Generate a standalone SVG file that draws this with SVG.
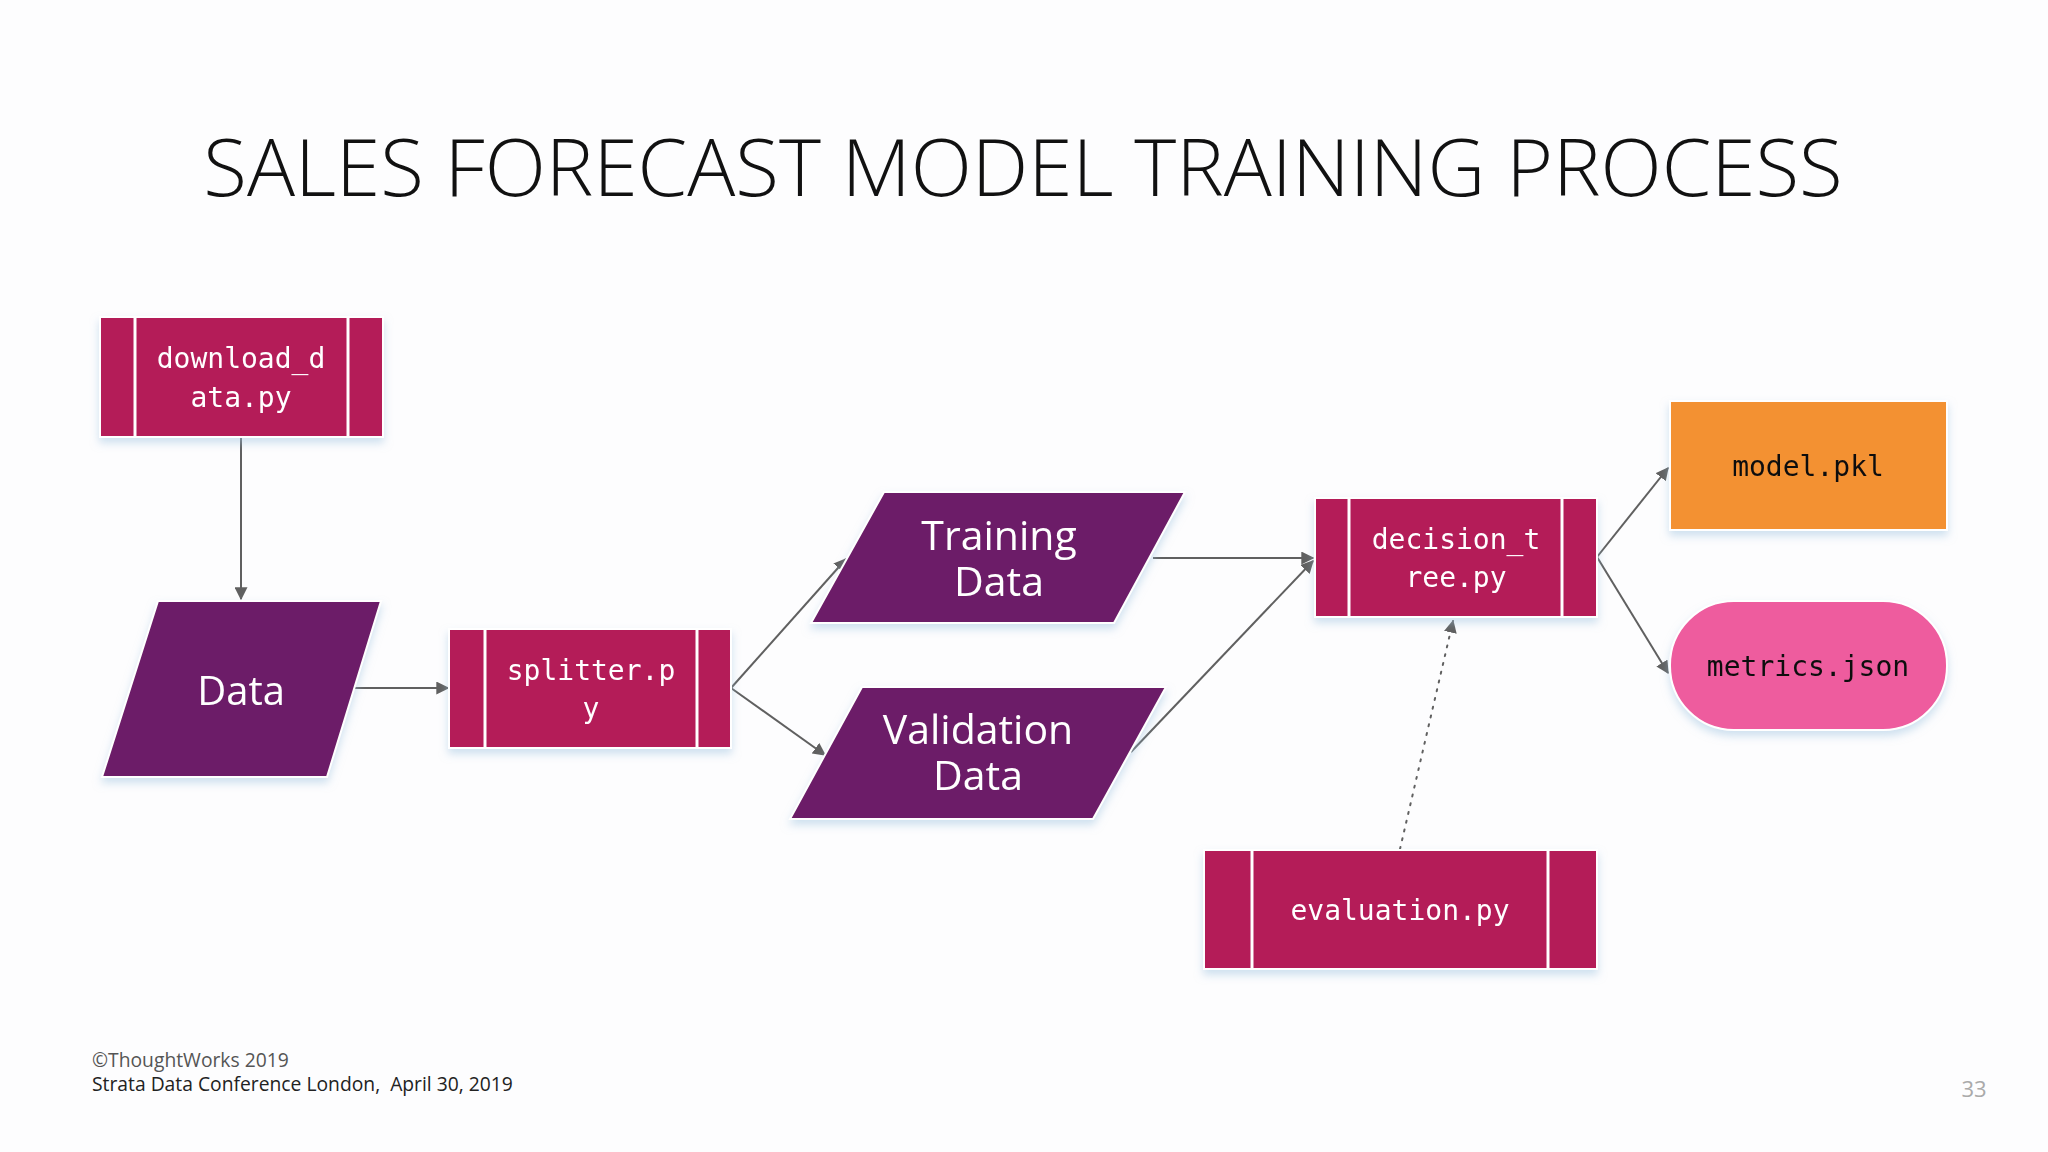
<svg xmlns="http://www.w3.org/2000/svg" width="2048" height="1152" viewBox="0 0 2048 1152">
<defs>
<style>
.proc{fill:#B41A59;stroke:#fff;stroke-width:2}
.div{stroke:#fff;stroke-width:3}
.data{fill:#6C1F67;stroke:#fff;stroke-width:2}
.mono{font-family:"DejaVu Sans Mono","Liberation Mono",monospace;font-size:28px;text-anchor:middle}
.sans{font-family:"Open Sans","Noto Sans",sans-serif;text-anchor:middle;fill:#fff}
.wt{fill:#fff}
.bk{fill:#111}
.conn{stroke:#606060;stroke-width:2;fill:none}
</style>
<filter id="sh" x="-10%" y="-10%" width="120%" height="130%">
<feDropShadow dx="0" dy="5" stdDeviation="4" flood-color="#9fc3e0" flood-opacity="0.5"/>
</filter>
<marker id="ah2" viewBox="0 0 10 10" refX="9" refY="5" markerWidth="13" markerHeight="13" orient="auto" markerUnits="userSpaceOnUse">
<path d="M0,0 L10,5 L0,10 z" fill="#606060"/>
</marker>
</defs>
<rect width="2048" height="1152" fill="#fdfdfe"/>
<text x="1023" y="196" font-family="'Open Sans','Noto Sans',sans-serif" font-weight="300" font-size="80" fill="#111" text-anchor="middle">SALES FORECAST MODEL TRAINING PROCESS</text>

<g id="connectors">
<line class="conn" x1="241" y1="437" x2="241" y2="599" marker-end="url(#ah2)"/>
<line class="conn" x1="355" y1="688" x2="448" y2="688" marker-end="url(#ah2)"/>
<line class="conn" x1="731" y1="688" x2="846" y2="559" marker-end="url(#ah2)"/>
<line class="conn" x1="731" y1="688" x2="825" y2="755" marker-end="url(#ah2)"/>
<line class="conn" x1="1153" y1="558" x2="1313" y2="558" marker-end="url(#ah2)"/>
<line class="conn" x1="1131" y1="752" x2="1313" y2="561" marker-end="url(#ah2)"/>
<line class="conn" x1="1597" y1="557" x2="1668" y2="468" marker-end="url(#ah2)"/>
<line class="conn" x1="1597" y1="557" x2="1668" y2="673" marker-end="url(#ah2)"/>
<line class="conn" x1="1400" y1="849" x2="1453" y2="621" stroke-dasharray="2 7" stroke-linecap="round" marker-end="url(#ah2)"/>
</g>

<g id="download_data" filter="url(#sh)">
<rect class="proc" x="100" y="317" width="283" height="120"/>
<line class="div" x1="135" y1="317" x2="135" y2="437"/>
<line class="div" x1="348" y1="317" x2="348" y2="437"/>
<text class="mono wt" x="241" y="368">download_d</text>
<text class="mono wt" x="241" y="407">ata.py</text>
</g>

<g id="data" filter="url(#sh)">
<polygon class="data" points="158,601 381,601 327,777 102,777"/>
<text class="sans" x="241" y="705" font-size="40">Data</text>
</g>

<g id="splitter" filter="url(#sh)">
<rect class="proc" x="449" y="629" width="282" height="119"/>
<line class="div" x1="485" y1="629" x2="485" y2="748"/>
<line class="div" x1="697" y1="629" x2="697" y2="748"/>
<text class="mono wt" x="591" y="680">splitter.p</text>
<text class="mono wt" x="591" y="718">y</text>
</g>

<g id="training_data" filter="url(#sh)">
<polygon class="data" points="884,492 1185,492 1114,623 811,623"/>
<text class="sans" x="999" y="550" font-size="41">Training</text>
<text class="sans" x="999" y="596" font-size="41">Data</text>
</g>

<g id="validation_data" filter="url(#sh)">
<polygon class="data" points="862,687 1166,687 1093,819 790,819"/>
<text class="sans" x="978" y="744" font-size="41">Validation</text>
<text class="sans" x="978" y="790" font-size="41">Data</text>
</g>

<g id="decision_tree" filter="url(#sh)">
<rect class="proc" x="1315" y="498" width="282" height="119"/>
<line class="div" x1="1349" y1="498" x2="1349" y2="617"/>
<line class="div" x1="1562" y1="498" x2="1562" y2="617"/>
<text class="mono wt" x="1456" y="549">decision_t</text>
<text class="mono wt" x="1456" y="587">ree.py</text>
</g>

<g id="model_pkl" filter="url(#sh)">
<rect x="1670" y="401" width="277" height="129" fill="#F39133" stroke="#fff" stroke-width="2"/>
<text class="mono bk" x="1808" y="476">model.pkl</text>
</g>

<g id="metrics_json" filter="url(#sh)">
<rect x="1670" y="601" width="277" height="129" rx="64" ry="64" fill="#EE5B9E" stroke="#fff" stroke-width="2"/>
<text class="mono bk" x="1808" y="676">metrics.json</text>
</g>

<g id="evaluation" filter="url(#sh)">
<rect class="proc" x="1204" y="850" width="393" height="119"/>
<line class="div" x1="1252" y1="850" x2="1252" y2="969"/>
<line class="div" x1="1548" y1="850" x2="1548" y2="969"/>
<text class="mono wt" x="1400" y="920">evaluation.py</text>
</g>

<text x="92" y="1067" font-family="'Open Sans','Noto Sans',sans-serif" font-size="19.3" fill="#555">©ThoughtWorks 2019</text>
<text x="92" y="1091" font-family="'Open Sans','Noto Sans',sans-serif" font-size="19.3" fill="#222" xml:space="preserve">Strata Data Conference London,  April 30, 2019</text>
<text x="1974" y="1097" font-family="'Open Sans','Noto Sans',sans-serif" font-size="22" fill="#aaa" text-anchor="middle">33</text>
</svg>
